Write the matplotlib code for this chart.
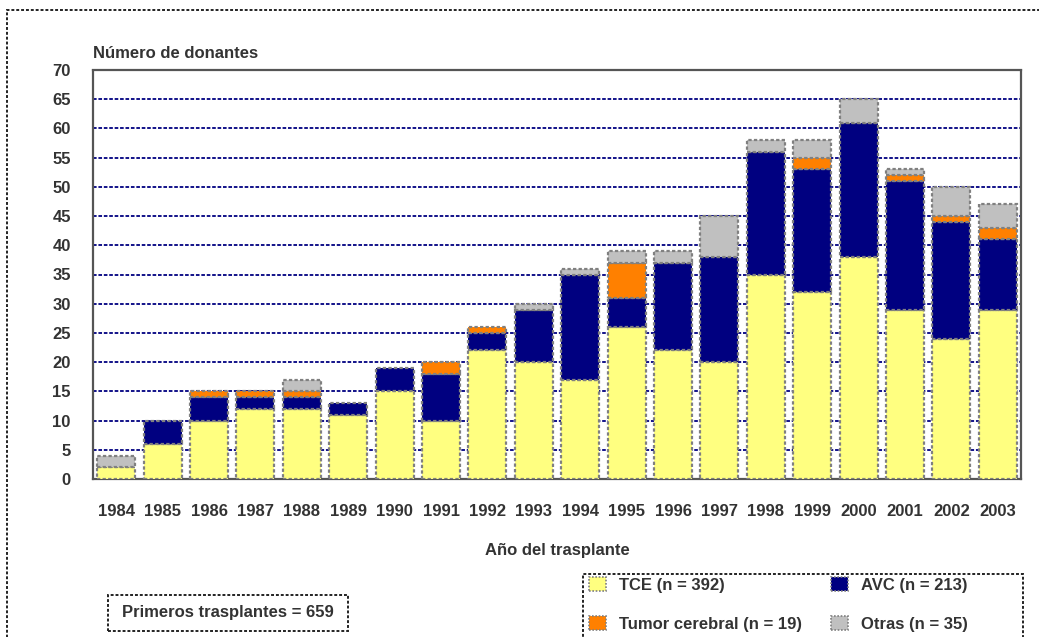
import numpy as np
import matplotlib.pyplot as plt
from matplotlib.patches import Rectangle, Patch

years = [str(y) for y in range(1984, 2004)]
tce = [2, 6, 10, 12, 12, 11, 15, 10, 22, 20, 17, 26, 22, 20, 35, 32, 38, 29, 24, 29]
avc = [0, 4, 4, 2, 2, 2, 4, 8, 3, 9, 18, 5, 15, 18, 21, 21, 23, 22, 20, 12]
tumor = [0, 0, 1, 1, 1, 0, 0, 2, 1, 0, 0, 6, 0, 0, 0, 2, 0, 1, 1, 2]
otras = [2, 0, 0, 0, 2, 0, 0, 0, 0, 1, 1, 2, 2, 7, 2, 3, 4, 1, 5, 4]

plt.rcParams["font.family"] = ["Liberation Sans", "DejaVu Sans"]

c_tce, c_avc, c_tum, c_otr = "#FFFF80", "#000080", "#FF8000", "#C0C0C0"
edge = "#808080"
txt = "#333333"

fig = plt.figure(figsize=(10.39, 6.37), dpi=100)
W, H = 1039, 637
ax = fig.add_axes([93 / W, (H - 479) / H, (1021 - 93) / W, (479 - 70) / H])

x = np.arange(len(years))
bottom = np.zeros(len(years))
for vals, col in [(tce, c_tce), (avc, c_avc), (tumor, c_tum), (otras, c_otr)]:
    v = np.array(vals, dtype=float)
    mask = v > 0
    ax.bar(x[mask], v[mask], 0.82, bottom=bottom[mask], color=col,
           edgecolor=edge, linewidth=1.6, linestyle=(0, (1.5, 1)), zorder=3)
    bottom += v

ax.set_xlim(-0.5, len(years) - 0.5)
ax.set_ylim(0, 70)
ax.set_yticks(range(0, 71, 5))
ax.set_xticks(x)
ax.set_xticklabels(years)
ax.tick_params(length=0, labelsize=12, labelcolor=txt)
for lab in ax.get_xticklabels() + ax.get_yticklabels():
    lab.set_fontweight("bold")
ax.tick_params(axis="x", pad=18)
ax.tick_params(axis="y", pad=16)
ax.grid(True, axis="y", color="#000080", linestyle=(0, (2, 1)), linewidth=1.3, zorder=0)
ax.set_axisbelow(True)
for s in ax.spines.values():
    s.set_color("#555555")
    s.set_linewidth(1.6)
    s.set_linestyle((0, (1.5, 1)))

fig.text(93 / W, 1 - 53 / H, "Número de donantes", fontsize=12, fontweight="bold",
         color=txt, ha="left", va="center")
fig.text(557 / W, 1 - 550 / H, "Año del trasplante", fontsize=12, fontweight="bold",
         color=txt, ha="center", va="center")

# outer dotted frame
fig.patches.append(Rectangle((7 / W, -0.05), 1.1, 1 - 10 / H + 0.05, transform=fig.transFigure,
                             fill=False, edgecolor="#222222", linewidth=1.4,
                             linestyle=(0, (1.5, 1))))

# total box
fig.patches.append(Rectangle((108 / W, 1 - 631 / H), 240 / W, 36 / H, transform=fig.transFigure,
                             fill=False, edgecolor="#222222", linewidth=1.4,
                             linestyle=(0, (1.5, 1))))
fig.text(228 / W, 1 - 613 / H, "Primeros trasplantes = 659", fontsize=12, fontweight="bold",
         color=txt, ha="center", va="center")

# legend box
fig.patches.append(Rectangle((583 / W, -0.05), 440 / W, 1 - 574 / H + 0.05, transform=fig.transFigure,
                             fill=False, edgecolor="#222222", linewidth=1.4,
                             linestyle=(0, (1.5, 1))))
handles = [Patch(facecolor=c, edgecolor=edge, linestyle=(0, (1, 1)), linewidth=1.2)
           for c in (c_tce, c_tum, c_avc, c_otr)]
labels = ["TCE (n = 392)", "Tumor cerebral (n = 19)", "AVC (n = 213)", "Otras (n = 35)"]
leg = fig.legend(handles, labels, ncol=2, frameon=False, loc="upper left",
                 bbox_to_anchor=(589 / W, 1 - 577 / H), fontsize=12,
                 handlelength=1.0, handleheight=0.9, handletextpad=0.8,
                 columnspacing=1.75, labelspacing=1.4, borderaxespad=0, borderpad=0.0)
for t in leg.get_texts():
    t.set_fontweight("bold")
    t.set_color(txt)

fig.savefig("out.png", dpi=100)
